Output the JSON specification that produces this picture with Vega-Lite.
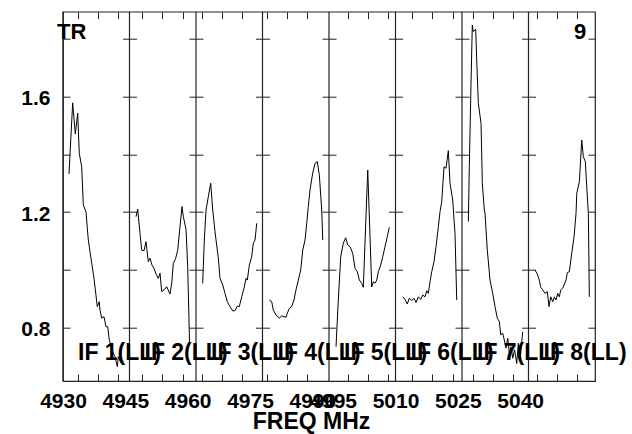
{
  "$schema": "https://vega.github.io/schema/vega-lite/v6.json",
  "width": 532,
  "height": 369.3,
  "autosize": {"type": "none"},
  "padding": {"left": 63, "top": 11.7, "right": 37, "bottom": 53},
  "config": {
    "view": {"stroke": "#222", "strokeWidth": 1.2},
    "font": "Liberation Sans",
    "text": {"font": "Liberation Sans"},
    "axis": {"labelOverlap": false, "labelBound": false, "labelFlush": false}
  },
  "datasets": {
    "ifs": [
      {"freq": 4930, "name": "IF 1(LL)"},
      {"freq": 4946, "name": "IF 2(LL)"},
      {"freq": 4962, "name": "IF 3(LL)"},
      {"freq": 4978, "name": "IF 4(LL)"},
      {"freq": 4994, "name": "IF 5(LL)"},
      {"freq": 5010, "name": "IF 6(LL)"},
      {"freq": 5026, "name": "IF 7(LL)"},
      {"freq": 5042, "name": "IF 8(LL)"}
    ],
    "corner": [
      {"freq": 4932.1, "amp": 1.8, "label": "TR", "side": "left"},
      {"freq": 5054.4, "amp": 1.8, "label": "9", "side": "right"}
    ],
    "spec": [
      {"band": 1, "freq": 4931.44, "amp": 1.332},
      {"band": 1, "freq": 4932.33, "amp": 1.579},
      {"band": 1, "freq": 4932.96, "amp": 1.471},
      {"band": 1, "freq": 4933.54, "amp": 1.543},
      {"band": 1, "freq": 4933.92, "amp": 1.404},
      {"band": 1, "freq": 4934.50, "amp": 1.357},
      {"band": 1, "freq": 4934.88, "amp": 1.225},
      {"band": 1, "freq": 4935.53, "amp": 1.201},
      {"band": 1, "freq": 4936.09, "amp": 1.103},
      {"band": 1, "freq": 4936.91, "amp": 1.022},
      {"band": 1, "freq": 4937.46, "amp": 0.970},
      {"band": 1, "freq": 4938.25, "amp": 0.872},
      {"band": 1, "freq": 4938.73, "amp": 0.889},
      {"band": 1, "freq": 4938.90, "amp": 0.860},
      {"band": 1, "freq": 4939.31, "amp": 0.832},
      {"band": 1, "freq": 4939.87, "amp": 0.837},
      {"band": 1, "freq": 4940.35, "amp": 0.802},
      {"band": 1, "freq": 4940.76, "amp": 0.802},
      {"band": 1, "freq": 4941.14, "amp": 0.756},
      {"band": 1, "freq": 4941.96, "amp": 0.716},
      {"band": 1, "freq": 4942.51, "amp": 0.698},
      {"band": 1, "freq": 4943.07, "amp": 0.664},
      {"band": 1, "freq": 4943.31, "amp": 0.698},
      {"band": 1, "freq": 4943.96, "amp": 0.676},

      {"band": 2, "freq": 4947.57, "amp": 1.184},
      {"band": 2, "freq": 4947.97, "amp": 1.210},
      {"band": 2, "freq": 4948.53, "amp": 1.126},
      {"band": 2, "freq": 4948.94, "amp": 1.068},
      {"band": 2, "freq": 4949.49, "amp": 1.066},
      {"band": 2, "freq": 4949.97, "amp": 1.097},
      {"band": 2, "freq": 4950.52, "amp": 1.028},
      {"band": 2, "freq": 4950.93, "amp": 1.040},
      {"band": 2, "freq": 4951.41, "amp": 1.016},
      {"band": 2, "freq": 4951.89, "amp": 1.005},
      {"band": 2, "freq": 4952.38, "amp": 0.985},
      {"band": 2, "freq": 4952.93, "amp": 0.970},
      {"band": 2, "freq": 4953.34, "amp": 0.988},
      {"band": 2, "freq": 4953.75, "amp": 0.924},
      {"band": 2, "freq": 4954.30, "amp": 0.930},
      {"band": 2, "freq": 4954.95, "amp": 0.941},
      {"band": 2, "freq": 4955.75, "amp": 0.916},
      {"band": 2, "freq": 4956.16, "amp": 0.953},
      {"band": 2, "freq": 4956.54, "amp": 1.022},
      {"band": 2, "freq": 4957.12, "amp": 1.040},
      {"band": 2, "freq": 4957.60, "amp": 1.068},
      {"band": 2, "freq": 4958.15, "amp": 1.149},
      {"band": 2, "freq": 4958.63, "amp": 1.219},
      {"band": 2, "freq": 4958.95, "amp": 1.184},
      {"band": 2, "freq": 4959.60, "amp": 1.140},
      {"band": 2, "freq": 4960.00, "amp": 1.011},
      {"band": 2, "freq": 4960.39, "amp": 0.780},
      {"band": 2, "freq": 4960.44, "amp": 0.739},

      {"band": 3, "freq": 4963.61, "amp": 0.953},
      {"band": 3, "freq": 4964.00, "amp": 1.103},
      {"band": 3, "freq": 4964.41, "amp": 1.207},
      {"band": 3, "freq": 4964.96, "amp": 1.253},
      {"band": 3, "freq": 4965.54, "amp": 1.300},
      {"band": 3, "freq": 4966.02, "amp": 1.207},
      {"band": 3, "freq": 4966.16, "amp": 1.190},
      {"band": 3, "freq": 4966.57, "amp": 1.132},
      {"band": 3, "freq": 4967.37, "amp": 1.040},
      {"band": 3, "freq": 4967.78, "amp": 0.970},
      {"band": 3, "freq": 4968.43, "amp": 0.947},
      {"band": 3, "freq": 4968.98, "amp": 0.918},
      {"band": 3, "freq": 4969.53, "amp": 0.889},
      {"band": 3, "freq": 4970.18, "amp": 0.872},
      {"band": 3, "freq": 4970.83, "amp": 0.857},
      {"band": 3, "freq": 4971.39, "amp": 0.858},
      {"band": 3, "freq": 4971.94, "amp": 0.874},
      {"band": 3, "freq": 4972.42, "amp": 0.872},
      {"band": 3, "freq": 4973.00, "amp": 0.906},
      {"band": 3, "freq": 4973.55, "amp": 0.936},
      {"band": 3, "freq": 4974.03, "amp": 0.970},
      {"band": 3, "freq": 4974.35, "amp": 0.964},
      {"band": 3, "freq": 4974.83, "amp": 1.016},
      {"band": 3, "freq": 4975.40, "amp": 1.045},
      {"band": 3, "freq": 4975.79, "amp": 1.092},
      {"band": 3, "freq": 4976.20, "amp": 1.103},
      {"band": 3, "freq": 4976.61, "amp": 1.161},

      {"band": 4, "freq": 4979.64, "amp": 0.895},
      {"band": 4, "freq": 4980.22, "amp": 0.889},
      {"band": 4, "freq": 4980.60, "amp": 0.860},
      {"band": 4, "freq": 4981.25, "amp": 0.843},
      {"band": 4, "freq": 4982.05, "amp": 0.832},
      {"band": 4, "freq": 4982.62, "amp": 0.840},
      {"band": 4, "freq": 4983.18, "amp": 0.837},
      {"band": 4, "freq": 4983.66, "amp": 0.835},
      {"band": 4, "freq": 4983.97, "amp": 0.849},
      {"band": 4, "freq": 4984.45, "amp": 0.866},
      {"band": 4, "freq": 4985.03, "amp": 0.872},
      {"band": 4, "freq": 4985.58, "amp": 0.895},
      {"band": 4, "freq": 4986.06, "amp": 0.930},
      {"band": 4, "freq": 4986.62, "amp": 0.964},
      {"band": 4, "freq": 4987.20, "amp": 0.999},
      {"band": 4, "freq": 4987.68, "amp": 1.068},
      {"band": 4, "freq": 4988.23, "amp": 1.103},
      {"band": 4, "freq": 4988.64, "amp": 1.161},
      {"band": 4, "freq": 4989.02, "amp": 1.219},
      {"band": 4, "freq": 4989.43, "amp": 1.277},
      {"band": 4, "freq": 4990.08, "amp": 1.335},
      {"band": 4, "freq": 4990.64, "amp": 1.369},
      {"band": 4, "freq": 4991.19, "amp": 1.375},
      {"band": 4, "freq": 4991.67, "amp": 1.329},
      {"band": 4, "freq": 4992.25, "amp": 1.207},
      {"band": 4, "freq": 4992.49, "amp": 1.103},

      {"band": 5, "freq": 4995.69, "amp": 0.733},
      {"band": 5, "freq": 4996.24, "amp": 0.895},
      {"band": 5, "freq": 4996.82, "amp": 1.045},
      {"band": 5, "freq": 4997.44, "amp": 1.092},
      {"band": 5, "freq": 4998.02, "amp": 1.111},
      {"band": 5, "freq": 4998.50, "amp": 1.086},
      {"band": 5, "freq": 4999.06, "amp": 1.080},
      {"band": 5, "freq": 4999.71, "amp": 1.057},
      {"band": 5, "freq": 5000.26, "amp": 1.005},
      {"band": 5, "freq": 5000.81, "amp": 0.993},
      {"band": 5, "freq": 5001.30, "amp": 0.964},
      {"band": 5, "freq": 5001.87, "amp": 0.953},
      {"band": 5, "freq": 5002.26, "amp": 0.939},
      {"band": 5, "freq": 5003.32, "amp": 1.346},
      {"band": 5, "freq": 5004.28, "amp": 0.940},
      {"band": 5, "freq": 5004.66, "amp": 0.958},
      {"band": 5, "freq": 5005.07, "amp": 0.953},
      {"band": 5, "freq": 5005.48, "amp": 0.964},
      {"band": 5, "freq": 5005.87, "amp": 0.993},
      {"band": 5, "freq": 5006.44, "amp": 1.016},
      {"band": 5, "freq": 5006.93, "amp": 1.045},
      {"band": 5, "freq": 5007.48, "amp": 1.080},
      {"band": 5, "freq": 5008.03, "amp": 1.115},
      {"band": 5, "freq": 5008.51, "amp": 1.147},

      {"band": 6, "freq": 5011.74, "amp": 0.906},
      {"band": 6, "freq": 5012.29, "amp": 0.897},
      {"band": 6, "freq": 5012.84, "amp": 0.881},
      {"band": 6, "freq": 5013.32, "amp": 0.901},
      {"band": 6, "freq": 5013.90, "amp": 0.893},
      {"band": 6, "freq": 5014.46, "amp": 0.901},
      {"band": 6, "freq": 5014.94, "amp": 0.886},
      {"band": 6, "freq": 5015.49, "amp": 0.906},
      {"band": 6, "freq": 5016.07, "amp": 0.897},
      {"band": 6, "freq": 5016.55, "amp": 0.912},
      {"band": 6, "freq": 5017.10, "amp": 0.906},
      {"band": 6, "freq": 5017.51, "amp": 0.927},
      {"band": 6, "freq": 5017.90, "amp": 0.918},
      {"band": 6, "freq": 5018.31, "amp": 0.958},
      {"band": 6, "freq": 5018.72, "amp": 0.993},
      {"band": 6, "freq": 5019.27, "amp": 1.028},
      {"band": 6, "freq": 5019.75, "amp": 1.080},
      {"band": 6, "freq": 5020.31, "amp": 1.149},
      {"band": 6, "freq": 5020.71, "amp": 1.201},
      {"band": 6, "freq": 5021.12, "amp": 1.236},
      {"band": 6, "freq": 5021.67, "amp": 1.357},
      {"band": 6, "freq": 5022.16, "amp": 1.352},
      {"band": 6, "freq": 5022.71, "amp": 1.413},
      {"band": 6, "freq": 5023.12, "amp": 1.300},
      {"band": 6, "freq": 5023.77, "amp": 1.242},
      {"band": 6, "freq": 5024.08, "amp": 1.173},
      {"band": 6, "freq": 5024.32, "amp": 1.126},
      {"band": 6, "freq": 5024.73, "amp": 0.895},

      {"band": 7, "freq": 5027.52, "amp": 1.167},
      {"band": 7, "freq": 5027.76, "amp": 1.357},
      {"band": 7, "freq": 5028.17, "amp": 1.647},
      {"band": 7, "freq": 5028.48, "amp": 1.849},
      {"band": 7, "freq": 5028.72, "amp": 1.826},
      {"band": 7, "freq": 5029.30, "amp": 1.834},
      {"band": 7, "freq": 5029.54, "amp": 1.727},
      {"band": 7, "freq": 5029.93, "amp": 1.577},
      {"band": 7, "freq": 5030.58, "amp": 1.508},
      {"band": 7, "freq": 5030.89, "amp": 1.300},
      {"band": 7, "freq": 5031.37, "amp": 1.207},
      {"band": 7, "freq": 5031.54, "amp": 1.196},
      {"band": 7, "freq": 5032.09, "amp": 1.068},
      {"band": 7, "freq": 5032.74, "amp": 0.964},
      {"band": 7, "freq": 5033.39, "amp": 0.918},
      {"band": 7, "freq": 5033.94, "amp": 0.872},
      {"band": 7, "freq": 5034.50, "amp": 0.832},
      {"band": 7, "freq": 5034.98, "amp": 0.820},
      {"band": 7, "freq": 5035.32, "amp": 0.774},
      {"band": 7, "freq": 5035.80, "amp": 0.780},
      {"band": 7, "freq": 5036.18, "amp": 0.756},
      {"band": 7, "freq": 5036.59, "amp": 0.728},
      {"band": 7, "freq": 5037.00, "amp": 0.762},
      {"band": 7, "freq": 5037.39, "amp": 0.710},
      {"band": 7, "freq": 5037.80, "amp": 0.733},
      {"band": 7, "freq": 5038.21, "amp": 0.693},
      {"band": 7, "freq": 5038.64, "amp": 0.722},
      {"band": 7, "freq": 5039.17, "amp": 0.675},
      {"band": 7, "freq": 5039.55, "amp": 0.745},
      {"band": 7, "freq": 5039.96, "amp": 0.687},
      {"band": 7, "freq": 5040.61, "amp": 0.785},

      {"band": 8, "freq": 5043.57, "amp": 0.999},
      {"band": 8, "freq": 5044.12, "amp": 0.985},
      {"band": 8, "freq": 5044.60, "amp": 0.964},
      {"band": 8, "freq": 5044.94, "amp": 0.939},
      {"band": 8, "freq": 5045.42, "amp": 0.930},
      {"band": 8, "freq": 5045.98, "amp": 0.918},
      {"band": 8, "freq": 5046.53, "amp": 0.924},
      {"band": 8, "freq": 5046.94, "amp": 0.872},
      {"band": 8, "freq": 5047.35, "amp": 0.906},
      {"band": 8, "freq": 5047.83, "amp": 0.889},
      {"band": 8, "freq": 5048.22, "amp": 0.906},
      {"band": 8, "freq": 5048.62, "amp": 0.895},
      {"band": 8, "freq": 5049.03, "amp": 0.918},
      {"band": 8, "freq": 5049.42, "amp": 0.906},
      {"band": 8, "freq": 5049.76, "amp": 0.930},
      {"band": 8, "freq": 5050.24, "amp": 0.936},
      {"band": 8, "freq": 5050.55, "amp": 0.947},
      {"band": 8, "freq": 5051.03, "amp": 0.964},
      {"band": 8, "freq": 5051.34, "amp": 0.990},
      {"band": 8, "freq": 5051.82, "amp": 0.993},
      {"band": 8, "freq": 5052.40, "amp": 1.057},
      {"band": 8, "freq": 5052.96, "amp": 1.115},
      {"band": 8, "freq": 5053.44, "amp": 1.196},
      {"band": 8, "freq": 5053.61, "amp": 1.265},
      {"band": 8, "freq": 5054.23, "amp": 1.305},
      {"band": 8, "freq": 5054.81, "amp": 1.450},
      {"band": 8, "freq": 5055.19, "amp": 1.392},
      {"band": 8, "freq": 5055.68, "amp": 1.375},
      {"band": 8, "freq": 5056.01, "amp": 1.288},
      {"band": 8, "freq": 5056.40, "amp": 1.196},
      {"band": 8, "freq": 5056.64, "amp": 0.906}
    ]
  },
  "layer": [
    {
      "data": {"name": "ifs"},
      "mark": {"type": "rule", "color": "#222", "strokeWidth": 1.2},
      "encoding": {
        "x": {"field": "freq", "type": "quantitative", "axis": {"labelOverlap": false, "tickCount": 100, "title": "FREQ MHz"}}
      }
    },
    {
      "data": {"name": "spec"},
      "mark": {"type": "line", "color": "#000", "strokeWidth": 1, "clip": true},
      "encoding": {
        "x": {
          "field": "freq",
          "type": "quantitative",
          "scale": {"domain": [4930, 5058], "nice": false, "zero": false},
          "axis": {
            "title": "FREQ MHz",
            "titleFont": "Liberation Sans",
            "titleFontSize": 23,
            "titleFontWeight": "bold",
            "titleColor": "#000",
            "titleX": 248,
            "titleY": 47,
            "titleAlign": "center",
            "titleBaseline": "alphabetic",
            "tickCount": 100,
            "values": [4930, 4933.54, 4938.35, 4943.16, 4945, 4949.08, 4953.89, 4958.87,
                       4960, 4963.52, 4968.33, 4973.14, 4975, 4979.16, 4983.90, 4988.78,
                       4990, 4995, 4998.50, 5003.31, 5008.13, 5010, 5014.05, 5018.86, 5023.77,
                       5025, 5028.58, 5033.39, 5038.21, 5040, 5044.12, 5048.93, 5053.75],
            "labelExpr": "(datum.value == 4930 || datum.value == 4945 || datum.value == 4960 || datum.value == 4975 || datum.value == 4990 || datum.value == 4995 || datum.value == 5010 || datum.value == 5025 || datum.value == 5040) ? format(datum.value, 'd') : ''",
            "labelFont": "Liberation Sans",
            "labelFontSize": 21,
            "labelFontWeight": "bold",
            "labelColor": "#000",
            "labelPadding": 9.5,
            "labelBaseline": "top",
            "labelFlush": false,
            "labelOverlap": false,
            "labelBound": false,
            "domain": false,
            "ticks": false,
            "tickSize": 0,
            "grid": true,
            "gridColor": "#222",
            "gridWidth": 1,
            "gridDash": [7, 355.3],
            "gridOpacity": {"condition": {"test": "datum.value == 4930 || datum.value == 4945 || datum.value == 4960 || datum.value == 4975 || datum.value == 4990 || datum.value == 4995 || datum.value == 5010 || datum.value == 5025 || datum.value == 5040", "value": 0}, "value": 1}
          }
        },
        "y": {
          "field": "amp",
          "type": "quantitative",
          "scale": {"domain": [0.614, 1.895], "nice": false, "zero": false},
          "axis": {
            "title": null,
            "tickCount": 100,
            "values": [0.8, 1.0, 1.2, 1.4, 1.6, 1.8],
            "labelExpr": "datum.value == 0.8 || datum.value == 1.2 || datum.value == 1.6 ? format(datum.value, '.1f') : ''",
            "labelFont": "Liberation Sans",
            "labelFontSize": 21,
            "labelFontWeight": "bold",
            "labelColor": "#000",
            "labelPadding": 13,
            "labelBaseline": "middle",
            "labelOffset": 2,
            "labelOverlap": false,
            "labelBound": false,
            "labelFlush": false,
            "domain": false,
            "ticks": false,
            "tickSize": 0,
            "grid": true,
            "gridColor": "#222",
            "gridWidth": 1,
            "gridDash": [7, 52.5, 7, 0]
          }
        },
        "detail": {"field": "band", "type": "nominal"}
      }
    },
    {
      "data": {"name": "ifs"},
      "mark": {"type": "text", "align": "left", "baseline": "alphabetic", "dx": 15, "fontSize": 23, "fontWeight": "bold", "font": "Liberation Sans", "color": "#000"},
      "encoding": {
        "x": {"field": "freq", "type": "quantitative", "axis": {"labelOverlap": false, "tickCount": 100, "title": "FREQ MHz"}},
        "y": {"datum": 0.688, "axis": {"labelOverlap": false, "tickCount": 100, "title": null}},
        "text": {"field": "name", "type": "nominal"}
      }
    },
    {
      "data": {"name": "corner"},
      "mark": {"type": "text", "baseline": "alphabetic", "fontSize": 22, "fontWeight": "bold", "font": "Liberation Sans", "color": "#000"},
      "encoding": {
        "x": {"field": "freq", "type": "quantitative", "axis": {"labelOverlap": false, "tickCount": 100, "title": "FREQ MHz"}},
        "y": {"field": "amp", "type": "quantitative", "axis": {"labelOverlap": false, "tickCount": 100, "title": null}},
        "align": {"field": "side", "type": "nominal", "scale": null},
        "text": {"field": "label", "type": "nominal"}
      }
    }
  ]
}
